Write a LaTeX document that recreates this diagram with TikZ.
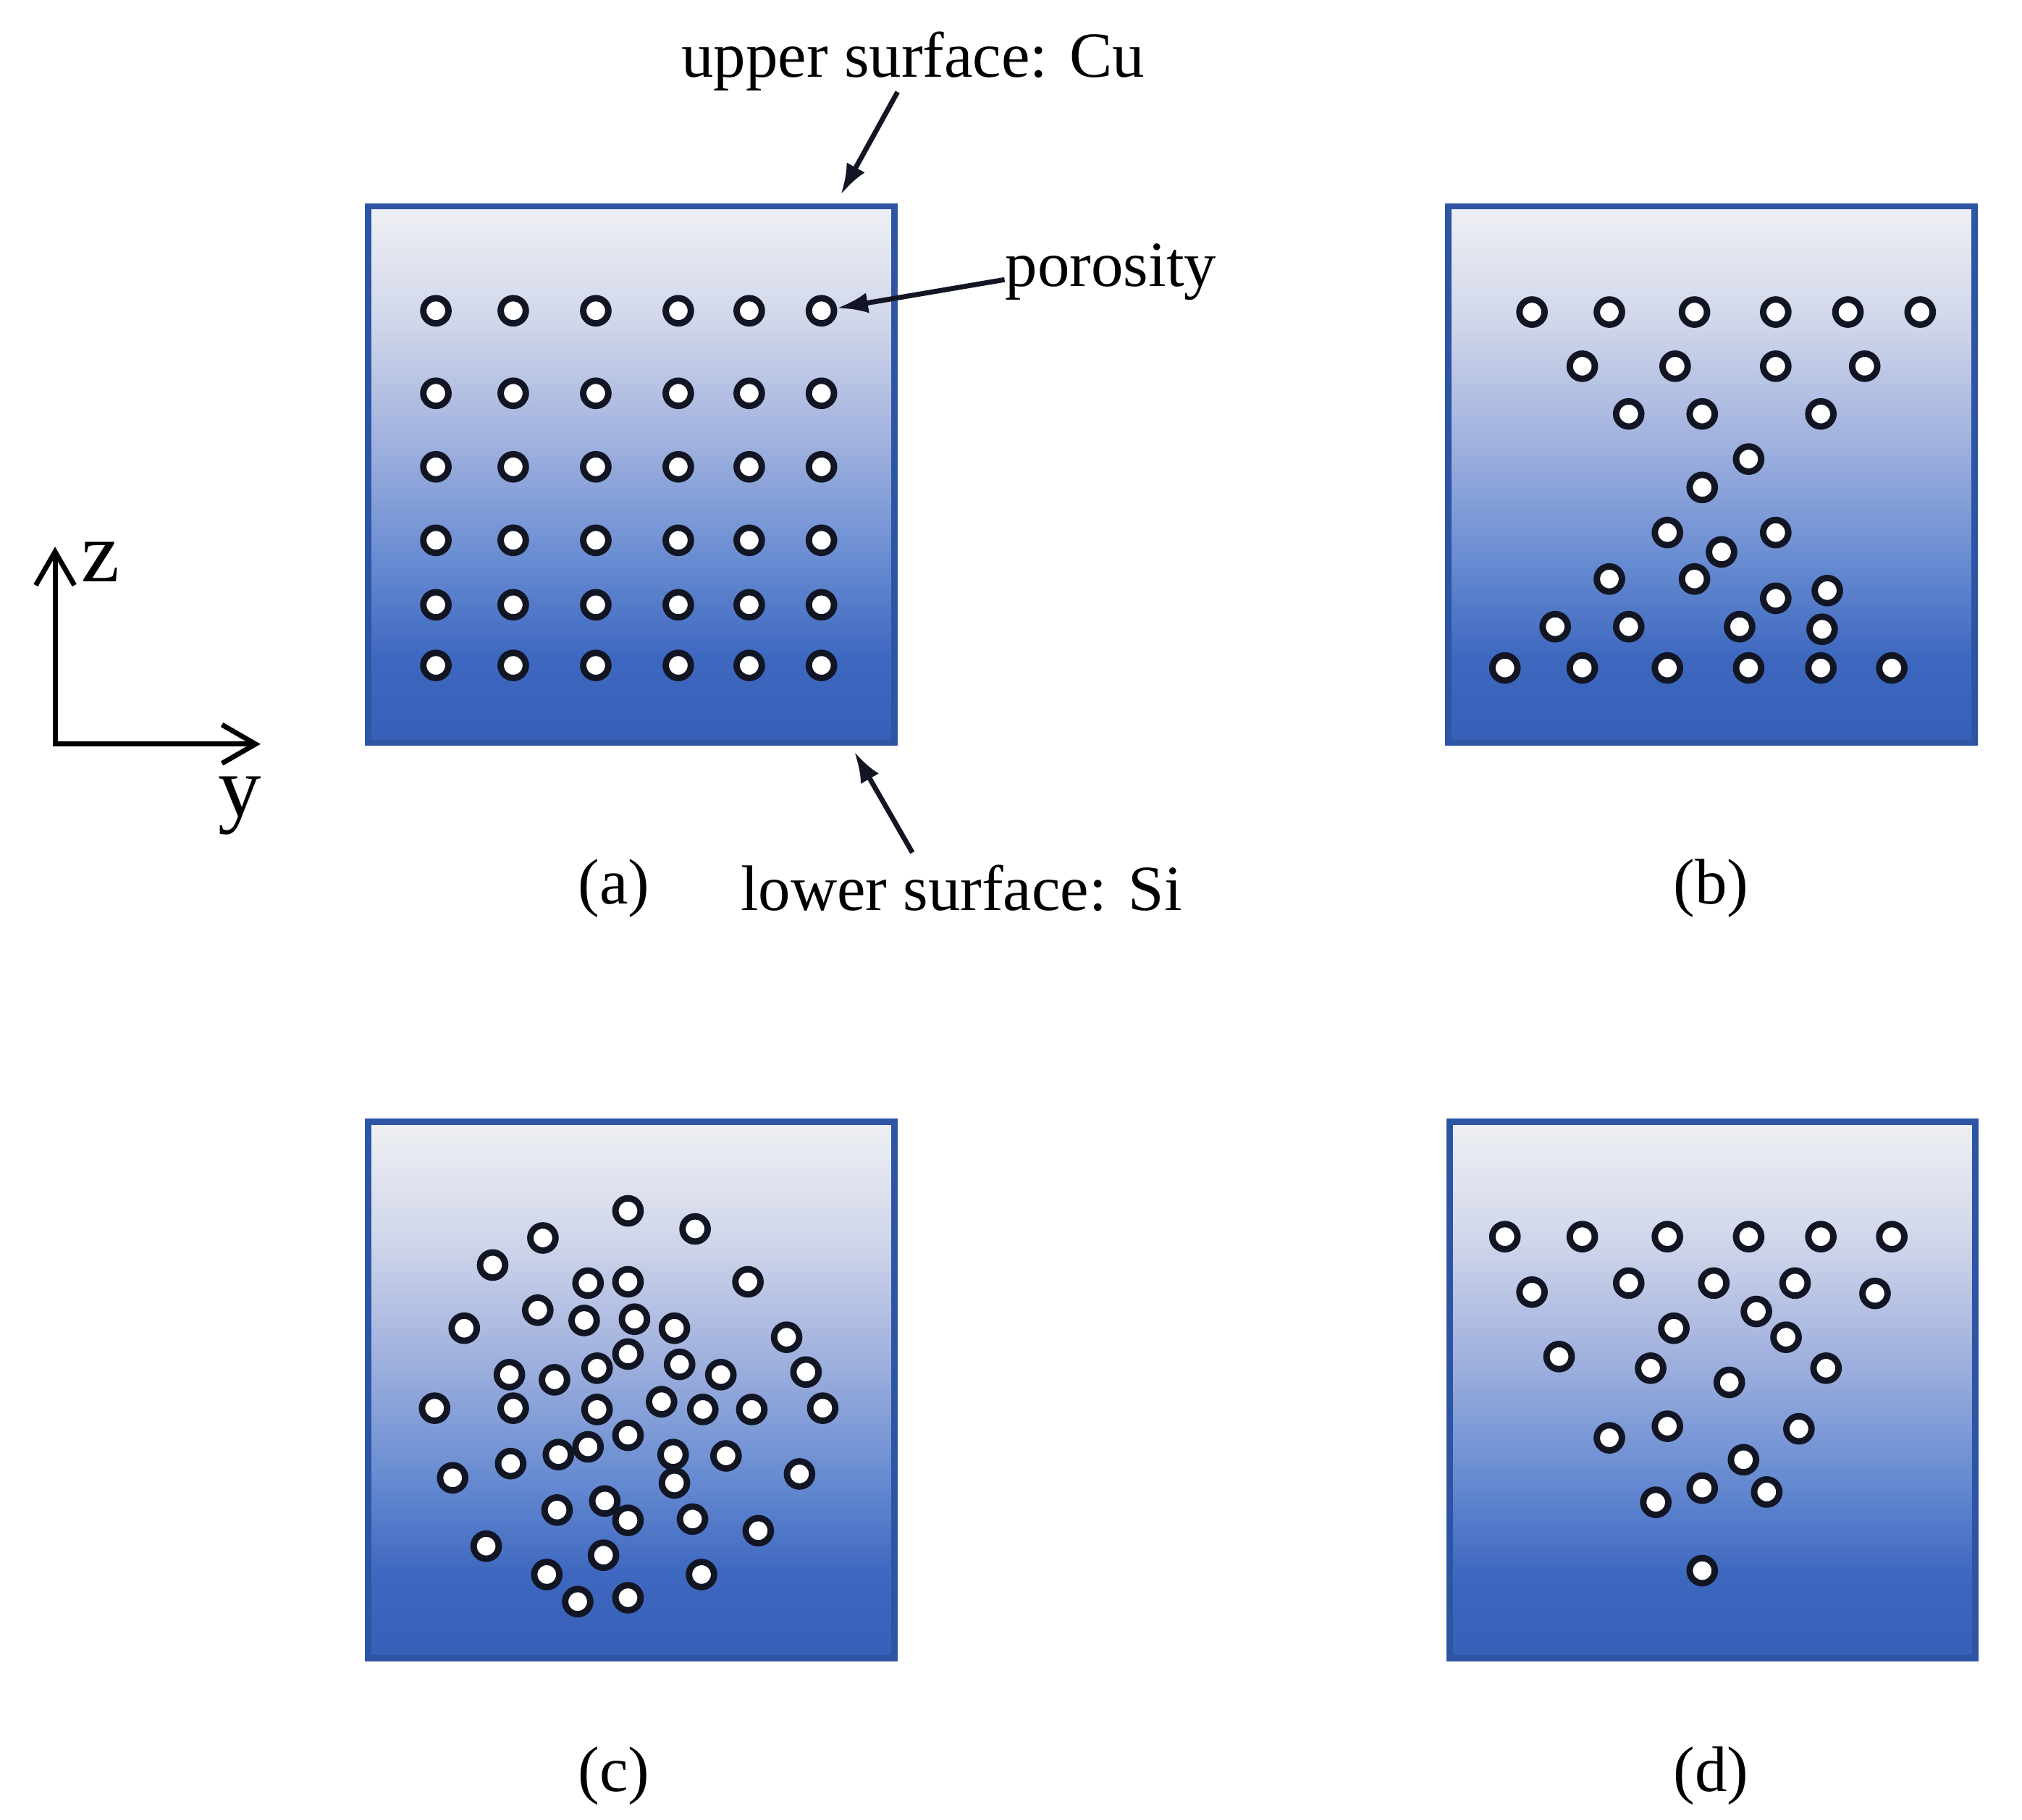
\documentclass[tikz,border=0pt]{standalone}
\usepackage{fontspec}
\setmainfont{Liberation Serif}
\usetikzlibrary{arrows.meta}

\definecolor{framecol}{RGB}{46,84,164}
\definecolor{porecol}{RGB}{18,22,36}
\definecolor{shA}{RGB}{54,96,183}
\definecolor{shB}{RGB}{62,104,192}
\definecolor{shC}{RGB}{104,140,210}
\definecolor{shD}{RGB}{160,177,222}
\definecolor{shE}{RGB}{208,214,234}
\definecolor{shF}{RGB}{239,240,244}
\pgfdeclareverticalshading{depthshade}{100bp}{color(0bp)=(shA); color(25bp)=(shA); color(33bp)=(shB);
  color(42bp)=(shC); color(53bp)=(shD); color(64bp)=(shE); color(75bp)=(shF); color(100bp)=(shF)}

\begin{document}
\begin{tikzpicture}[
    panel/.style={draw=framecol, line width=0.5mm, shade, shading=depthshade,
      minimum width=4.08cm, minimum height=4.16cm, inner sep=0pt},
    pore/.style={circle, draw=porecol, fill=white, line width=0.5mm, minimum size=1.95mm, inner sep=0pt},
    lbl/.style={font=\fontsize{14.2}{17}\selectfont, inner sep=0pt},
    axlbl/.style={font=\fontsize{19}{22}\selectfont, inner sep=0pt, anchor=base},
    ann/.style={-{Latex[length=2.4mm,width=1.6mm]}, line width=1.1pt, draw=porecol},
    axis/.style={{Straight Barb[length=2.6mm,width=3mm]}-{Straight Barb[length=2.6mm,width=3mm]}, line width=1.1pt}
  ]
    \useasboundingbox (0,0) rectangle (15.68,14.11);

    % Panels
    \node[panel] (pa) at (4.895,10.43) {};
    \node[panel] (pb) at (13.27,10.43) {};
    \node[panel] (pc) at (4.895,3.33) {};
    \node[panel] (pd) at (13.28,3.33) {};

    % Pores (a): regular grid
    \foreach \y [count=\r] in {11.70,11.06,10.49,9.92,9.42,8.95}
      \foreach \x [count=\c] in {3.38,3.98,4.62,5.26,5.81,6.37}
        \node[pore] (a-\r-\c) at (\x,\y) {};

    % Pores (b)
    \foreach \x/\y [count=\i] in {11.88/11.69, 12.48/11.69, 13.14/11.69, 13.77/11.69, 14.33/11.69, 14.89/11.69,
        12.27/11.27, 12.99/11.27, 13.77/11.27, 14.46/11.27,
        12.63/10.90, 13.20/10.90, 14.12/10.90, 13.56/10.55, 13.20/10.33,
        12.93/9.98, 13.77/9.98, 13.35/9.83, 12.48/9.62, 13.14/9.62,
        13.77/9.47, 14.17/9.53, 12.06/9.25, 12.63/9.25, 13.49/9.25, 14.13/9.23,
        11.67/8.93, 12.27/8.93, 12.93/8.93, 13.56/8.93, 14.12/8.93, 14.67/8.93}
      \node[pore] (b-\i) at (\x,\y) {};

    % Pores (c)
    \foreach \x/\y [count=\i] in {4.87/4.72, 5.39/4.58, 4.21/4.51, 3.82/4.30, 4.56/4.16, 4.87/4.17,
        5.80/4.17, 4.17/3.95, 4.53/3.87, 4.92/3.88, 5.23/3.81, 3.60/3.81,
        6.10/3.74, 4.87/3.61, 4.63/3.50, 5.27/3.53, 5.59/3.45, 3.95/3.45,
        4.30/3.41, 6.25/3.47, 3.37/3.19, 3.98/3.19, 4.63/3.18, 5.13/3.24,
        5.45/3.18, 5.83/3.18, 6.38/3.19, 4.87/2.98, 4.56/2.89, 4.33/2.83,
        3.96/2.76, 5.22/2.83, 5.63/2.82, 5.23/2.61, 3.51/2.65, 6.20/2.68,
        4.32/2.40, 4.69/2.47, 4.87/2.32, 5.37/2.33, 5.88/2.24, 3.77/2.12,
        4.68/2.05, 4.24/1.90, 5.44/1.90, 4.48/1.69, 4.87/1.72}
      \node[pore] (c-\i) at (\x,\y) {};

    % Pores (d)
    \foreach \x/\y [count=\i] in {11.67/4.52, 12.27/4.52, 12.93/4.52, 13.56/4.52, 14.12/4.52, 14.67/4.52,
        11.88/4.09, 12.63/4.16, 13.29/4.16, 13.92/4.16, 14.54/4.08,
        13.62/3.94, 12.98/3.81, 13.85/3.74, 12.09/3.59, 12.80/3.50,
        13.41/3.39, 14.16/3.50, 12.93/3.05, 12.48/2.96, 13.95/3.03,
        13.52/2.79, 13.20/2.57, 13.70/2.54, 12.84/2.46, 13.20/1.93}
      \node[pore] (d-\i) at (\x,\y) {};

    % Labels
    \node[lbl, anchor=base] (upper) at (7.08,13.51) {upper surface: Cu};
    \node[lbl, anchor=base west] (poro) at (7.79,11.89) {porosity};
    \node[lbl, anchor=base] (lower) at (7.455,7.05) {lower surface: Si};
    \node[lbl, anchor=base] (la) at (4.76,7.10) {(a)};
    \node[lbl, anchor=base] (lb) at (13.27,7.10) {(b)};
    \node[lbl, anchor=base] (lc) at (4.76,0.22) {(c)};
    \node[lbl, anchor=base] (ld) at (13.27,0.22) {(d)};

    % Arrows to the surfaces
    \coordinate (cutop) at (6.52,12.60);
    \coordinate (sibot) at (6.625,8.28);
    \draw[ann] ([xshift=-1.2mm]upper.south) -- (cutop);
    \draw[ann] ([yshift=-0.6mm]poro.west) -- (a-1-6);
    \draw[ann] ([xshift=-3.8mm,yshift=0.9mm]lower.north) -- (sibot);

    % Axes
    \coordinate (o) at (0.427,8.34);
    \coordinate (zt) at (0.427,9.87);
    \coordinate (yt) at (2.02,8.34);
    \draw[axis] (zt) -- (o) -- (yt);
    \node[axlbl] (zl) at (0.78,9.60) {z};
    \node[axlbl] (yl) at (1.86,7.78) {y};

\end{tikzpicture}
\end{document}
